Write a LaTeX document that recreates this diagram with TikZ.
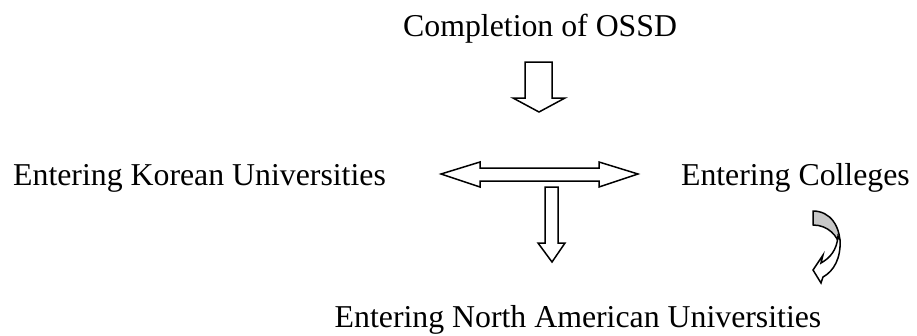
\documentclass[tikz,border=0pt]{standalone}
\usepackage{fontspec}
\setmainfont{Liberation Serif}
\begin{document}
\begin{tikzpicture}[x=1pt,y=-1pt,
  lbl/.style={inner sep=0pt, font=\fontsize{31.8}{38}\selectfont},
  arr/.style={draw=black, line width=1.5pt, fill=white, line join=miter},
  backband/.style={draw=black, line width=1.5pt, fill=black!22, line join=round},
  frontband/.style={draw=black, line width=1.5pt, fill=white, line join=miter}]
\useasboundingbox (0,0) rectangle (917,335);
% labels
\node[lbl, anchor=base west] (ossd) at (403,36.7) {Completion of OSSD};
\node[lbl, anchor=base west] (korean) at (13,185) {Entering Korean Universities};
\node[lbl, anchor=base east] (colleges) at (910,185) {Entering Colleges};
\node[lbl, anchor=base] (northam) at (578,327) {Entering North American Universities};
% top block arrow
\draw[arr] (525,62) -- (552,62) -- (552,98) -- (565,98) -- (539,112) -- (513,98) -- (525,98) -- cycle;
% double block arrow
\draw[arr] (441,174) -- (480,162) -- (480,168) -- (599,168) -- (599,162) -- (638,174)
  -- (599,187) -- (599,181) -- (480,181) -- (480,187) -- cycle;
% down block arrow
\draw[arr] (545,187) -- (558,187) -- (558,243) -- (565,243) -- (552,262) -- (538,243) -- (545,243) -- cycle;
% curved arrow
\draw[backband] (813,211) .. controls (830,211) and (841,226) .. (840,247)
  .. controls (838,236) and (828,225) .. (813,225) -- cycle;
\draw[frontband] (840,240) .. controls (841,258) and (834,271) .. (823,277)
  -- (821,283) -- (813,270) -- (823,255) -- (821,263)
  .. controls (830,258) and (837,250) .. (838,236) -- cycle;
\end{tikzpicture}
\end{document}
